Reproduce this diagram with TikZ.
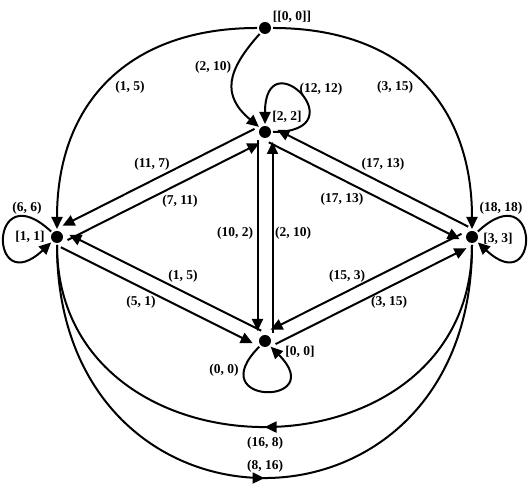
\documentclass[tikz,border=0pt]{standalone}
\usepackage{fontspec}
\setmainfont{Liberation Serif}
\usetikzlibrary{arrows.meta,decorations.markings}
\begin{document}
\begin{tikzpicture}[x=1pt,y=1pt,
  vtx/.style={circle,fill=black,inner sep=0pt,minimum size=12pt,outer sep=2pt},
  lbl/.style={font=\fontsize{13.5}{15}\selectfont\bfseries,inner sep=0pt},
  edg/.style={line width=2pt},
  arr/.style={edg,-{Triangle[length=12pt,width=11pt]}},
  darr/.style={arr,shorten >=2pt},
  midarr/.style={edg,postaction={decorate},decoration={markings,mark=at position 0.5 with {\arrow{Triangle[length=12pt,width=11pt]}}}},
]
\useasboundingbox (0,0) rectangle (530,494);
% vertices
\node[vtx] (T)   at (265,466) {};
\node[vtx] (N22) at (265,362) {};
\node[vtx] (N11) at (57,257) {};
\node[vtx] (N33) at (472,257) {};
\node[vtx] (N00) at (265,153) {};
% vertex labels
\node[lbl] (lT)   at (292,477) {[[0, 0]]};
\node[lbl] (l22)  at (287,377) {[2, 2]};
\node[lbl] (l11)  at (30,257)  {[1, 1]};
\node[lbl] (l33)  at (498,255) {[3, 3]};
\node[lbl] (l00)  at (300,142) {[0, 0]};
% big arcs from top
\draw[arr] (T) to[out=180,in=90,looseness=1.15] (N11);
\draw[arr] (T) to[out=0,in=90,looseness=1.15] (N33);
\draw[arr] (T) to[out=228,in=140,looseness=1.35] (N22);
% loops
\draw[arr] (N22) .. controls +(0:95) and +(90:95) .. (N22);
\draw[arr] (N11) .. controls +(137:94) and +(223:94) .. (N11);
\draw[arr] (N33) .. controls +(43:94) and +(-43:94) .. (N33);
\draw[arr] (N00) .. controls +(225:92) and +(315:92) .. (N00);
% double lines [1,1]-[2,2]
\draw[darr,transform canvas={shift={(-3.4,6.7)}}] (N22) -- (N11);
\draw[darr,transform canvas={shift={(3.4,-6.7)}}] (N11) -- (N22);
% double lines [2,2]-[3,3]
\draw[darr,transform canvas={shift={(3.4,6.7)}}] (N33) -- (N22);
\draw[darr,transform canvas={shift={(-3.4,-6.7)}}] (N22) -- (N33);
% double lines [2,2]-[0,0]
\draw[darr,transform canvas={shift={(-7.5,0)}}] (N22) -- (N00);
\draw[darr,transform canvas={shift={(7.5,0)}}] (N00) -- (N22);
% double lines [1,1]-[0,0]
\draw[darr,transform canvas={shift={(3.35,6.7)}}] (N00) -- (N11);
\draw[darr,transform canvas={shift={(-3.35,-6.7)}}] (N11) -- (N00);
% double lines [0,0]-[3,3]
\draw[darr,transform canvas={shift={(-3.4,6.7)}}] (N33) -- (N00);
\draw[darr,transform canvas={shift={(3.4,-6.7)}}] (N00) -- (N33);
% bottom arcs
\draw[midarr] (N33) to[out=-90,in=-90,looseness=1.50] (N11);
\draw[midarr] (N11) to[out=-90,in=-90,looseness=1.92] (N33);
% edge labels
\node[lbl] (e1)  at (213,427) {(2, 10)};
\node[lbl] (e2)  at (321,405) {(12, 12)};
\node[lbl] (e3)  at (130,407) {(1, 5)};
\node[lbl] (e4)  at (395,407) {(3, 15)};
\node[lbl] (e5)  at (152,330) {(11, 7)};
\node[lbl] (e6)  at (180,293) {(7, 11)};
\node[lbl] (e7)  at (383,330) {(17, 13)};
\node[lbl] (e8)  at (342,295) {(17, 13)};
\node[lbl] (e9)  at (235,261) {(10, 2)};
\node[lbl] (e10) at (293,261) {(2, 10)};
\node[lbl] (e11) at (27,286)  {(6, 6)};
\node[lbl] (e12) at (501,286) {(18, 18)};
\node[lbl] (e13) at (183,218) {(1, 5)};
\node[lbl] (e14) at (141,192) {(5, 1)};
\node[lbl] (e15) at (347,218) {(15, 3)};
\node[lbl] (e16) at (389,192) {(3, 15)};
\node[lbl] (e17) at (224,124) {(0, 0)};
\node[lbl] (e18) at (265,51)  {(16, 8)};
\node[lbl] (e19) at (265,28)  {(8, 16)};
\end{tikzpicture}
\end{document}
